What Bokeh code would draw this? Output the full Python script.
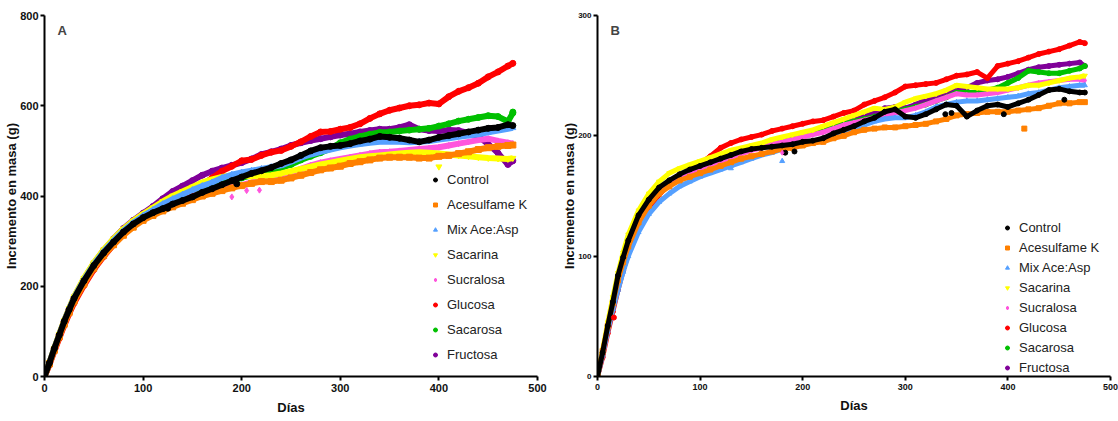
from bokeh.plotting import figure
from bokeh.models import Range1d, FixedTicker, Legend, LegendItem, Label
from bokeh.layouts import row
from bokeh.embed import file_html
from bokeh.resources import INLINE

# ---------------- data ----------------
DAYS = [0, 5, 10, 15, 20, 25, 30, 40, 50, 60, 70, 80, 90, 100, 110, 120, 130, 140, 150, 160,
        170, 180, 190, 200, 210, 220, 230, 240, 250, 260, 270, 280, 290, 300, 310, 320, 330,
        340, 350, 360, 370, 380, 390, 400, 410, 420, 430, 440, 450, 460, 470, 475]

NAMES = ["Control", "Acesulfame K", "Mix Ace:Asp", "Sacarina", "Sucralosa",
         "Glucosa", "Sacarosa", "Fructosa"]

X_TICKS = [0, 100, 200, 300, 400, 500]
A_Y_TICKS = [0, 200, 400, 600, 800]
B_Y_TICKS = [0, 100, 200, 300]

# Panel A
A_CONTROL = [0, 30, 62, 92, 122, 148, 173, 212, 246, 274, 298, 320, 338, 352, 363, 372, 382, 390, 398, 408,
             416, 425, 434, 442, 450, 456, 463, 472, 480, 490, 500, 507, 510, 512, 516, 522, 526,
             532, 530, 528, 524, 520, 524, 530, 534, 538, 542, 546, 550, 552, 558, 556]
A_ACESULFAME = [0, 28, 58, 88, 116, 142, 167, 205, 240, 268, 292, 313, 331, 346, 357, 367, 376, 384, 392, 400,
                406, 412, 418, 423, 428, 432, 432, 435, 440, 446, 452, 458, 462, 466, 472, 476, 480,
                484, 486, 486, 486, 484, 484, 488, 490, 494, 498, 503, 507, 510, 512, 513]
A_MIX = [0, 30, 62, 92, 122, 149, 174, 214, 248, 277, 301, 323, 341, 356, 369, 382, 393, 403, 413, 422,
         430, 440, 447, 452, 456, 460, 464, 468, 476, 485, 492, 498, 503, 508, 512, 515, 518,
         520, 521, 520, 519, 520, 522, 525, 528, 531, 534, 537, 541, 545, 549, 551]
A_SACARINA = [0, 31, 63, 94, 124, 151, 177, 218, 252, 281, 305, 327, 345, 360, 374, 388, 400, 410, 420, 430,
              437, 442, 446, 446, 444, 444, 446, 450, 455, 460, 465, 470, 474, 478, 482, 486, 488,
              490, 492, 494, 496, 497, 496, 494, 492, 490, 488, 486, 484, 483, 482, 484]
A_SUCRALOSA = [0, 29, 60, 90, 119, 145, 170, 208, 242, 270, 295, 317, 335, 350, 362, 372, 380, 388, 396, 404,
               410, 416, 420, 424, 430, 436, 442, 446, 452, 460, 468, 474, 478, 482, 486, 490, 494,
               497, 498, 500, 502, 504, 506, 508, 512, 516, 520, 524, 527, 522, 518, 516]
A_GLUCOSA = [0, 26, 56, 85, 113, 139, 163, 202, 237, 266, 292, 315, 334, 350, 364, 376, 388, 400, 412, 425,
             440, 455, 466, 478, 481, 490, 497, 501, 510, 520, 532, 542, 543, 548, 552, 560, 572,
             582, 590, 595, 600, 602, 606, 604, 620, 632, 640, 650, 664, 675, 688, 694]
A_SACAROSA = [0, 29, 60, 90, 119, 146, 171, 210, 245, 274, 299, 321, 339, 354, 366, 377, 388, 397, 405, 413,
              420, 428, 434, 440, 446, 452, 458, 462, 470, 480, 488, 496, 505, 518, 526, 532, 537,
              541, 542, 544, 546, 548, 550, 555, 560, 566, 570, 574, 578, 576, 565, 584]
A_FRUCTOSA = [0, 30, 62, 93, 123, 150, 176, 216, 251, 280, 305, 328, 346, 362, 377, 394, 410, 422, 434, 446,
              455, 462, 468, 474, 482, 492, 498, 504, 512, 518, 523, 527, 531, 535, 538, 542, 545,
              548, 548, 552, 558, 548, 545, 544, 546, 545, 540, 532, 515, 495, 470, 478]

# Panel B
B_CONTROL = [0, 20, 42, 62, 84, 99, 113, 134, 147, 157, 163, 168, 172, 175, 178, 181, 184, 187, 189, 190,
             191, 192, 193, 195, 196, 198, 202, 205, 208, 212, 215, 220, 222, 216, 215, 218, 222,
             226, 225, 216, 221, 225, 226, 224, 227, 230, 234, 238, 239, 237, 236, 236]
B_ACESULFAME = [0, 21, 42, 61, 80, 95, 108, 128, 142, 152, 158, 163, 166, 169, 172, 175, 178, 181, 183, 185,
                187, 189, 190, 192, 194, 195, 198, 200, 203, 205, 206, 207, 207, 208, 209, 210, 212,
                214, 217, 218, 219, 220, 220, 220, 221, 222, 223, 225, 227, 227, 228, 228]
B_MIX = [0, 18, 38, 56, 72, 87, 100, 120, 135, 145, 152, 158, 162, 166, 169, 172, 175, 178, 181, 184,
         186, 189, 191, 193, 195, 197, 200, 203, 206, 209, 212, 214, 215, 215, 217, 220, 224,
         226, 228, 229, 229, 230, 231, 232, 233, 235, 236, 238, 240, 241, 242, 242]
B_SACARINA = [0, 22, 45, 66, 86, 103, 118, 138, 152, 162, 169, 173, 176, 179, 182, 185, 188, 190, 192, 194,
              197, 199, 201, 203, 205, 208, 211, 214, 217, 220, 223, 222, 224, 228, 231, 233, 235,
              238, 242, 241, 240, 239, 239, 239, 240, 242, 242, 244, 246, 248, 249, 250]
B_SUCRALOSA = [0, 19, 40, 60, 78, 94, 108, 128, 143, 153, 160, 165, 169, 173, 176, 179, 182, 185, 188, 190,
               193, 195, 197, 199, 201, 203, 206, 209, 211, 213, 215, 217, 219, 221, 223, 226, 229,
               232, 235, 234, 234, 235, 236, 238, 240, 242, 244, 245, 246, 247, 247, 246]
B_GLUCOSA = [0, 16, 36, 54, 72, 88, 102, 123, 139, 151, 160, 166, 172, 177, 183, 190, 194, 197, 199, 201,
             204, 206, 208, 210, 212, 213, 216, 219, 221, 226, 229, 232, 236, 241, 242, 243, 244,
             247, 250, 251, 253, 248, 258, 260, 262, 265, 268, 270, 272, 275, 278, 277]
B_SACAROSA = [0, 19, 40, 60, 78, 94, 108, 128, 143, 154, 161, 166, 170, 174, 177, 180, 183, 186, 189, 192,
              194, 196, 198, 200, 202, 204, 207, 210, 212, 214, 216, 218, 220, 222, 224, 226, 229,
              232, 236, 236, 236, 238, 240, 244, 248, 254, 253, 252, 252, 254, 256, 258]
B_FRUCTOSA = [0, 19, 40, 60, 78, 94, 108, 128, 143, 154, 161, 166, 170, 174, 178, 181, 184, 187, 189, 191,
              194, 196, 198, 200, 202, 205, 208, 210, 213, 216, 219, 223, 224, 223, 226, 230, 233,
              236, 238, 240, 244, 246, 247, 249, 252, 255, 257, 258, 259, 260, 261, 258]

# isolated stray points
A_OUT_SERIES = ["Sacarina", "Control", "Control", "Sucralosa", "Sucralosa", "Sucralosa", "Sacarosa"]
A_OUT_DAYS = [400, 195, 125, 190, 205, 218, 475]
A_OUT_VALS = [465, 427, 373, 398, 412, 413, 586]
B_OUT_SERIES = ["Acesulfame K", "Control", "Control", "Mix Ace:Asp", "Mix Ace:Asp", "Sucralosa",
                "Glucosa", "Control", "Control", "Control", "Control"]
B_OUT_DAYS = [416, 183, 192, 180, 130, 180, 16, 339, 345, 396, 455]
B_OUT_VALS = [206, 186, 187, 179, 173, 186, 49, 218, 219, 218, 230]

# ---------------- styling ----------------
COLORS = ["#000000", "#FF8000", "#55A0FF", "#FFFF00", "#FF55DD", "#FF0000", "#00C000", "#800099"]
MARKERS = ["circle", "square", "triangle", "inverted_triangle", "diamond", "circle", "circle", "circle"]
FONT = "Liberation Sans"


def make_panel(letter, series, out_s, out_d, out_v, y_end, y_ticks, width, height, borders,
               ytick_fs, xtick_fs, lw, ms, leg_loc, leg_h, leg_spacing):
    bl, br, bt, bb = borders
    p = figure(width=width, height=height, x_range=Range1d(0, 500), y_range=Range1d(0, y_end),
               output_backend="svg", toolbar_location=None,
               min_border_left=bl, min_border_right=br, min_border_top=bt, min_border_bottom=bb)
    p.outline_line_color = None
    p.grid.visible = False
    p.background_fill_color = "white"
    p.border_fill_color = "white"

    p.xaxis.ticker = FixedTicker(ticks=X_TICKS)
    p.yaxis.ticker = FixedTicker(ticks=y_ticks)
    for ax in (p.xaxis[0], p.yaxis[0]):
        ax.axis_line_width = 2
        ax.axis_line_color = "black"
        ax.major_tick_line_width = 2
        ax.major_tick_line_color = "black"
        ax.major_tick_out = 4
        ax.major_tick_in = 0
        ax.minor_tick_out = 0
        ax.minor_tick_in = 0
        ax.major_label_text_font = FONT
        ax.major_label_text_font_style = "bold"
        ax.major_label_text_color = "#111111"
        ax.axis_label_text_font = FONT
        ax.axis_label_text_font_style = "bold"
        ax.axis_label_text_font_size = "13px"
        ax.axis_label_text_color = "#111111"
    p.xaxis.major_label_text_font_size = xtick_fs
    p.yaxis.major_label_text_font_size = ytick_fs
    p.xaxis.major_label_standoff = 3
    p.yaxis.major_label_standoff = 2
    p.xaxis.axis_label = "Días"
    p.yaxis.axis_label = "Incremento en masa (g)"
    p.xaxis.axis_label_standoff = 5
    p.yaxis.axis_label_standoff = -2

    rends = {}
    for i in reversed(range(len(NAMES))):
        p.line(DAYS, series[i], line_color=COLORS[i], line_width=lw, line_join="round")
        r = p.scatter(DAYS, series[i], marker=MARKERS[i], size=ms,
                      fill_color=COLORS[i], line_color=COLORS[i])
        rends[i] = r
    for s, d, v in zip(out_s, out_d, out_v):
        i = NAMES.index(s)
        p.scatter([d], [v], marker=MARKERS[i], size=ms, fill_color=COLORS[i], line_color=COLORS[i])

    items = [LegendItem(label=NAMES[i], renderers=[rends[i]]) for i in range(len(NAMES))]
    leg = Legend(items=items, location=leg_loc, orientation="vertical",
                 glyph_width=10, glyph_height=leg_h, label_height=leg_h,
                 spacing=leg_spacing, padding=0, margin=0, label_standoff=7,
                 border_line_color=None, background_fill_alpha=0,
                 label_text_font=FONT, label_text_font_size="13px",
                 label_text_color="#222222")
    p.add_layout(leg)

    p.add_layout(Label(x=0, y=y_end, x_offset=13, y_offset=-7, text=letter,
                       text_font=FONT, text_font_style="bold", text_font_size="13px",
                       text_baseline="top", text_align="left"))
    return p


A_SERIES = [A_CONTROL, A_ACESULFAME, A_MIX, A_SACARINA, A_SUCRALOSA, A_GLUCOSA, A_SACAROSA, A_FRUCTOSA]
B_SERIES = [B_CONTROL, B_ACESULFAME, B_MIX, B_SACARINA, B_SUCRALOSA, B_GLUCOSA, B_SACAROSA, B_FRUCTOSA]

pa = make_panel("A", A_SERIES, A_OUT_SERIES, A_OUT_DAYS, A_OUT_VALS, 800, A_Y_TICKS,
                557, 421, (44, 20, 15, 45), "11px", "11px", 6, 6, (386, 14), 15, 10)
pb = make_panel("B", B_SERIES, B_OUT_SERIES, B_OUT_DAYS, B_OUT_VALS, 300, B_Y_TICKS,
                561, 421, (40, 8, 9, 38), "8px", "9px", 5, 5, (405, 1), 15, 5)

layout = row(pa, pb)
open("out.html", "w").write(file_html(layout, INLINE))
